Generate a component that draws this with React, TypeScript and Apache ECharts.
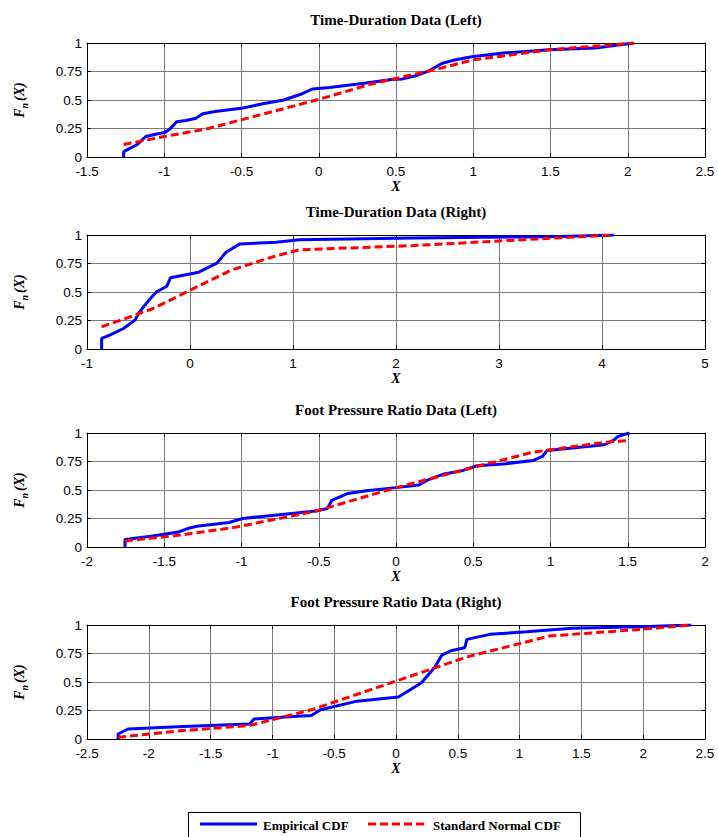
import React, { useEffect, useRef } from "react";
import * as echarts from "echarts";

// ---- Data ----
const titles = [
  "Time-Duration Data (Left)",
  "Time-Duration Data (Right)",
  "Foot Pressure Ratio Data (Left)",
  "Foot Pressure Ratio Data (Right)",
];

const xMins = [-1.5, -1, -2, -2.5];
const xMaxs = [2.5, 5, 2, 2.5];
const xIntervals = [0.5, 1, 0.5, 0.5];
const yTicks = [0, 0.25, 0.5, 0.75, 1];

const tdLeftEmpirical = [
  [-1.263, 0], [-1.263, 0.047], [-1.174, 0.11], [-1.12, 0.18], [-1.056, 0.2], [-0.996, 0.215],
  [-0.96, 0.25], [-0.92, 0.31], [-0.86, 0.32], [-0.795, 0.34], [-0.75, 0.38], [-0.67, 0.4],
  [-0.49, 0.43], [-0.37, 0.465], [-0.226, 0.5], [-0.107, 0.555], [-0.039, 0.597], [0.07, 0.61],
  [0.307, 0.65], [0.47, 0.68], [0.544, 0.685], [0.633, 0.715], [0.72, 0.76], [0.796, 0.82],
  [0.87, 0.848], [0.99, 0.88], [1.196, 0.912], [1.493, 0.94], [1.79, 0.956], [2.04, 1.0],
];
const tdLeftNormal = [
  [-1.263, 0.11], [-0.98, 0.185], [-0.73, 0.245], [-0.49, 0.33], [-0.015, 0.5], [0.34, 0.64],
  [0.78, 0.775], [0.99, 0.85], [1.49, 0.94], [2.04, 1.0],
];

const tdRightEmpirical = [
  [-0.858, 0], [-0.858, 0.093], [-0.779, 0.122], [-0.646, 0.18], [-0.535, 0.253], [-0.49, 0.326],
  [-0.4, 0.427], [-0.327, 0.5], [-0.225, 0.55], [-0.19, 0.625], [-0.026, 0.654], [0.085, 0.674],
  [0.262, 0.753], [0.35, 0.849], [0.484, 0.922], [0.838, 0.936], [1.06, 0.959], [2.17, 0.974],
  [3.5, 0.985], [4.115, 1.0],
];
const tdRightNormal = [
  [-0.858, 0.195], [-0.535, 0.297], [-0.358, 0.355], [0.0, 0.515], [0.395, 0.69], [0.79, 0.805],
  [1.06, 0.87], [2.17, 0.907], [3.05, 0.95], [4.115, 1.0],
];

const fpLeftEmpirical = [
  [-1.754, 0], [-1.754, 0.065], [-1.585, 0.094], [-1.407, 0.132], [-1.348, 0.162], [-1.289, 0.182],
  [-1.081, 0.215], [-0.993, 0.25], [-0.785, 0.279], [-0.519, 0.315], [-0.444, 0.338], [-0.415, 0.41],
  [-0.311, 0.47], [-0.193, 0.494], [0.015, 0.523], [0.148, 0.544], [0.207, 0.588], [0.311, 0.641],
  [0.43, 0.67], [0.52, 0.712], [0.696, 0.729], [0.889, 0.759], [0.948, 0.794], [0.978, 0.847],
  [1.141, 0.868], [1.348, 0.897], [1.407, 0.935], [1.437, 0.97], [1.511, 1.0],
];
const fpLeftNormal = [
  [-1.754, 0.053], [-1.407, 0.103], [-1.052, 0.17], [-0.519, 0.315], [-0.015, 0.515],
  [0.52, 0.706], [0.889, 0.832], [1.348, 0.918], [1.511, 0.935],
];

const fpRightEmpirical = [
  [-2.248, 0], [-2.248, 0.044], [-2.167, 0.088], [-1.722, 0.109], [-1.185, 0.132], [-1.148, 0.176],
  [-0.833, 0.197], [-0.685, 0.206], [-0.611, 0.256], [-0.315, 0.332], [0.019, 0.368], [0.204, 0.491],
  [0.315, 0.632], [0.37, 0.735], [0.444, 0.774], [0.556, 0.8], [0.574, 0.874], [0.759, 0.918],
  [1.056, 0.941], [1.426, 0.971], [1.981, 0.985], [2.389, 1.0],
];
const fpRightNormal = [
  [-2.248, 0.015], [-1.722, 0.074], [-1.185, 0.118], [-0.685, 0.256], [0.019, 0.515],
  [0.574, 0.72], [1.241, 0.903], [1.981, 0.962], [2.389, 1.0],
];

const empiricalSets = [tdLeftEmpirical, tdRightEmpirical, fpLeftEmpirical, fpRightEmpirical];
const normalSets = [tdLeftNormal, tdRightNormal, fpLeftNormal, fpRightNormal];

const EMP_NAME = "Empirical CDF";
const NORM_NAME = "Standard Normal CDF";

// ---- Layout ----
const gridTops = [43, 235, 433, 625];
const gridHeight = 114;
const gridLeft = 87;
const gridRight = 13;

export default function App() {
  const ref = useRef<HTMLDivElement>(null);

  useEffect(() => {
    if (!ref.current) return;
    const chart = echarts.init(ref.current, undefined, { renderer: "svg" });

    const grids = gridTops.map((t) => ({
      left: gridLeft,
      right: gridRight,
      top: t,
      height: gridHeight,
      containLabel: false,
    }));

    const xAxes: any[] = [];
    const yAxes: any[] = [];
    const series: any[] = [];
    const graphics: any[] = [];

    for (let i = 0; i < 4; i++) {
      xAxes.push({
        type: "value",
        gridIndex: i,
        min: xMins[i],
        max: xMaxs[i],
        interval: xIntervals[i],
        position: "bottom",
        name: "X",
        nameLocation: "middle",
        nameGap: 22,
        nameTextStyle: {
          fontFamily: "Liberation Serif",
          fontWeight: "bold",
          fontStyle: "italic",
          fontSize: 14,
          color: "#000",
        },
        axisLine: { show: true, onZero: false, lineStyle: { color: "#000", width: 1 } },
        axisTick: { show: true, inside: true, length: 4, lineStyle: { color: "#000" } },
        axisLabel: {
          margin: 7,
          fontFamily: "Liberation Sans",
          fontSize: 13.5,
          color: "#000",
        },
        splitLine: { show: true, lineStyle: { color: "#7a7a7a", width: 1 } },
      });
      xAxes.push({
        type: "value",
        gridIndex: i,
        min: xMins[i],
        max: xMaxs[i],
        interval: xIntervals[i],
        position: "top",
        axisLine: { show: true, onZero: false, lineStyle: { color: "#000", width: 1 } },
        axisTick: { show: true, inside: true, length: 4, lineStyle: { color: "#000" } },
        axisLabel: { show: false },
        splitLine: { show: false },
      });
      yAxes.push({
        type: "value",
        gridIndex: i,
        min: yTicks[0],
        max: yTicks[yTicks.length - 1],
        interval: 0.25,
        position: "left",
        name: "{f|F}{s|n}{f|(X)}",
        nameLocation: "middle",
        nameRotate: 90,
        nameGap: 58,
        nameTextStyle: {
          rich: {
            f: {
              fontFamily: "Liberation Serif",
              fontWeight: "bold",
              fontStyle: "italic",
              fontSize: 14,
              color: "#000",
              lineHeight: 20,
              verticalAlign: "middle",
            },
            s: {
              fontFamily: "Liberation Serif",
              fontWeight: "bold",
              fontStyle: "italic",
              fontSize: 10,
              color: "#000",
              lineHeight: 20,
              verticalAlign: "bottom",
              padding: [6, 2, 0, 0],
            },
          },
        },
        axisLine: { show: true, onZero: false, lineStyle: { color: "#000", width: 1 } },
        axisTick: { show: true, inside: true, length: 4, lineStyle: { color: "#000" } },
        axisLabel: {
          margin: 5,
          fontFamily: "Liberation Sans",
          fontSize: 13.5,
          color: "#000",
        },
        splitLine: { show: true, lineStyle: { color: "#7a7a7a", width: 1 } },
      });
      yAxes.push({
        type: "value",
        gridIndex: i,
        min: 0,
        max: 1,
        interval: 0.25,
        position: "right",
        axisLine: { show: true, onZero: false, lineStyle: { color: "#000", width: 1 } },
        axisTick: { show: true, inside: true, length: 4, lineStyle: { color: "#000" } },
        axisLabel: { show: false },
        splitLine: { show: false },
      });

      series.push({
        type: "line",
        name: EMP_NAME,
        xAxisIndex: i * 2,
        yAxisIndex: i * 2,
        data: empiricalSets[i],
        symbol: "none",
        lineStyle: { color: "#0000ff", width: 3 },
        itemStyle: { color: "#0000ff" },
        z: 3,
      });
      series.push({
        type: "line",
        name: NORM_NAME,
        xAxisIndex: i * 2,
        yAxisIndex: i * 2,
        data: normalSets[i],
        symbol: "none",
        lineStyle: { color: "#ff0000", width: 3, type: [8, 4] },
        itemStyle: { color: "#ff0000" },
        z: 4,
      });

      graphics.push({
        type: "text",
        x: gridLeft + (718 - gridLeft - gridRight) / 2,
        y: gridTops[i] - 23,
        style: {
          text: titles[i],
          textAlign: "center",
          textVerticalAlign: "middle",
          fontFamily: "Liberation Serif",
          fontWeight: "bold",
          fontSize: 15,
          fill: "#000",
        },
      });
    }

    // Legend box (drawn as graphics, cut by the bottom edge as in the reference)
    const legendFont = {
      fontFamily: "Liberation Serif",
      fontWeight: "bold",
      fontSize: 13,
      fill: "#000",
      textVerticalAlign: "middle",
    };
    graphics.push(
      {
        type: "rect",
        shape: { x: 188.5, y: 812.5, width: 392, height: 40 },
        style: { fill: "#fff", stroke: "#000", lineWidth: 1 },
        z: 10,
      },
      {
        type: "line",
        shape: { x1: 200, y1: 824, x2: 257, y2: 824 },
        style: { stroke: "#0000ff", lineWidth: 3 },
        z: 11,
      },
      {
        type: "text",
        x: 263,
        y: 825,
        style: { text: EMP_NAME, ...legendFont },
        z: 11,
      },
      {
        type: "line",
        shape: { x1: 368, y1: 824, x2: 424, y2: 824 },
        style: { stroke: "#ff0000", lineWidth: 3, lineDash: [8, 4] },
        z: 11,
      },
      {
        type: "text",
        x: 433,
        y: 825,
        style: { text: NORM_NAME, ...legendFont },
        z: 11,
      }
    );

    chart.setOption({
      animation: false,
      backgroundColor: "#fff",
      grid: grids,
      xAxis: xAxes,
      yAxis: yAxes,
      series,
      graphic: graphics,
    });

    return () => chart.dispose();
  }, []);

  return (
    <div
      ref={ref}
      style={{ position: "absolute", left: 0, top: 0, width: 718, height: 837, background: "#fff" }}
    />
  );
}
